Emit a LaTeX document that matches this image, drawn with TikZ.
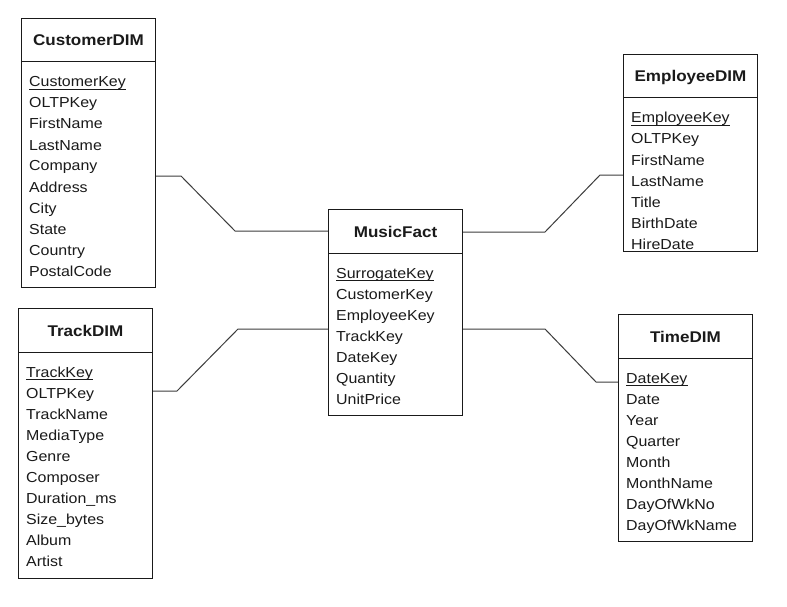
\documentclass[tikz,border=0pt]{standalone}
\usepackage{fontspec}
\setmainfont{Liberation Sans}[FakeStretch=1.1]
\usetikzlibrary{calc}
\definecolor{ink}{HTML}{1A1A1A}
\tikzset{
  tblbox/.style={draw=ink, line width=1pt, minimum width=134pt, anchor=north west, inner sep=0pt, fill=white},
  tbltitle/.style={anchor=base, inner sep=0pt, text=ink, font=\fontsize{15.5}{18}\selectfont\bfseries},
  field/.style={anchor=base west, inner sep=0pt, text=ink, font=\fontsize{14.5}{17}\selectfont},
  tblline/.style={draw=ink, line width=1pt},
  uline/.style={draw=ink, line width=0.8pt},
  conn/.style={draw=ink!85, line width=1pt}
}
\newcommand\mktable[7]{%
  \node[tblbox, minimum height=#4pt] (#1) at (#2,#3) {};
  \node[tbltitle] (#1-title) at ([yshift=-28pt]#1.north) {#5};
  \draw[tblline] ([yshift=-44pt]#1.north west) -- ([yshift=-44pt]#1.north east);
  \node[field] (#1-0) at ([xshift=8pt,yshift=-69pt]#1.north west) {#6};
  \draw[uline] ([yshift=-2pt]#1-0.base west) -- ([yshift=-2pt]#1-0.base east);
  \foreach \t [count=\i] in {#7}
    \node[field] (#1-\i) at ([xshift=8pt,yshift={-69-21*\i}]#1.north west) {\t};
}
\begin{document}
\begin{tikzpicture}[x=1pt,y=-1pt]
\useasboundingbox (0,0) rectangle (787,607);
\fill[white] (0,0) rectangle (787,607);

\mktable{cust}{21}{18}{269}{CustomerDIM}{CustomerKey}{OLTPKey,FirstName,LastName,Company,Address,City,State,Country,PostalCode}
\mktable{emp}{623}{54}{197}{EmployeeDIM}{EmployeeKey}{OLTPKey,FirstName,LastName,Title,BirthDate,HireDate}
\mktable{fact}{328}{209}{206}{MusicFact}{SurrogateKey}{CustomerKey,EmployeeKey,TrackKey,DateKey,Quantity,UnitPrice}
\mktable{track}{18}{308}{270}{TrackDIM}{TrackKey}{OLTPKey,TrackName,MediaType,Genre,Composer,Duration\_ms,Size\_bytes,Album,Artist}
\mktable{time}{618}{314}{227}{TimeDIM}{DateKey}{Date,Year,Quarter,Month,MonthName,DayOfWkNo,DayOfWkName}

\draw[conn] ([yshift=-158pt]cust.north east) -- ++(25,0)
  -- ([xshift=-93pt,yshift=-22pt]fact.north west) -- ([yshift=-22pt]fact.north west);
\draw[conn] ([yshift=-23pt]fact.north east) -- ++(82,0)
  -- ([xshift=-23pt,yshift=-121pt]emp.north west) -- ([yshift=-121pt]emp.north west);
\draw[conn] ([yshift=-83pt]track.north east) -- ++(24,0)
  -- ([xshift=-90pt,yshift=-120pt]fact.north west) -- ([yshift=-120pt]fact.north west);
\draw[conn] ([yshift=-120pt]fact.north east) -- ++(82,0)
  -- ([xshift=-22pt,yshift=-68pt]time.north west) -- ([yshift=-68pt]time.north west);
\end{tikzpicture}
\end{document}
